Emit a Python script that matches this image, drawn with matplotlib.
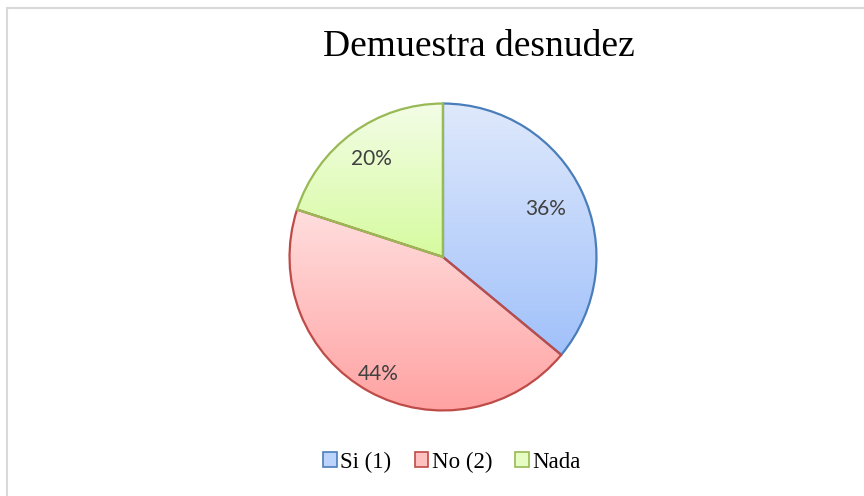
import numpy as np
import matplotlib
matplotlib.use("Agg")
from matplotlib import pyplot as plt
import matplotlib.patches as mpatches
from matplotlib.colors import LinearSegmentedColormap

labels = ["Si (1)", "No (2)", "Nada"]
values = [36, 44, 20]
edge_colors = ["#4a7ebb", "#be4b48", "#98b954"]
top_colors = ["#dfe9fc", "#ffdede", "#f3fde6"]
bottom_colors = ["#a1c1fa", "#ffa1a1", "#d6fb9f"]
label_dist = [0.74, 0.87, 0.79]
title = "Demuestra desnudez"

W, H = 864, 496
fig = plt.figure(figsize=(W / 100, H / 100), dpi=100)

## Pie area
cx, cy, r = 443, 257, 155
ax = fig.add_axes([(cx - r) / W, (H - cy - r) / H, 2 * r / W, 2 * r / H])

wedges, texts = ax.pie(values, startangle=90, counterclock=False,
                       wedgeprops=dict(linewidth=1.6))

## Vertical gradient inside every wedge
for w, ec, c0, c1 in zip(wedges, edge_colors, top_colors, bottom_colors):
    w.set_facecolor("none")
    w.set_edgecolor(ec)
    w.set_zorder(3)
    verts = w.get_path().vertices
    x0, x1 = verts[:, 0].min(), verts[:, 0].max()
    y0, y1 = verts[:, 1].min(), verts[:, 1].max()
    cmap = LinearSegmentedColormap.from_list("g", [c1, c0])
    grad = np.linspace(0, 1, 256).reshape(-1, 1)
    im = ax.imshow(grad, cmap=cmap, extent=[x0, x1, y0, y1], origin="lower",
                   aspect="auto", zorder=2, interpolation="bilinear")
    im.set_clip_path(w)

## Percent labels
total = float(sum(values))
for w, v, d in zip(wedges, values, label_dist):
    ang = np.deg2rad((w.theta1 + w.theta2) / 2)
    ax.text(d * np.cos(ang), d * np.sin(ang), "%d%%" % round(100 * v / total),
            ha="center", va="center", fontsize=15, family="Lato",
            color="#404040", zorder=5)

ax.set_xlim(-1.01, 1.01)
ax.set_ylim(-1.01, 1.01)
ax.set_aspect("equal")
ax.axis("off")

fig.text(479 / W, 1 - 47 / H, title, ha="center", va="center",
         fontsize=27, family="Liberation Serif", color="black")

## Legend
handles = [mpatches.Patch(facecolor=m, edgecolor=e, linewidth=1.2, label=l)
           for l, e, m in zip(labels, edge_colors,
                              ["#bcd3fb", "#ffc0c0", "#e5fcc2"])]
fig.legend(handles=handles, loc="center", bbox_to_anchor=(452 / W, 1 - 462 / H),
           ncol=3, frameon=False, handlelength=0.6, handleheight=0.6,
           handletextpad=0.15, columnspacing=1.0,
           prop=dict(family="Liberation Serif", size=16.5))

## Chart frame
fig.add_artist(mpatches.Rectangle((6.5 / W, -0.5), 2, 1.5 - 7.5 / H,
                                  transform=fig.transFigure, fill=False,
                                  edgecolor="#d9d9d9", linewidth=1.5))

fig.savefig("out.png", dpi=100, facecolor="white")
